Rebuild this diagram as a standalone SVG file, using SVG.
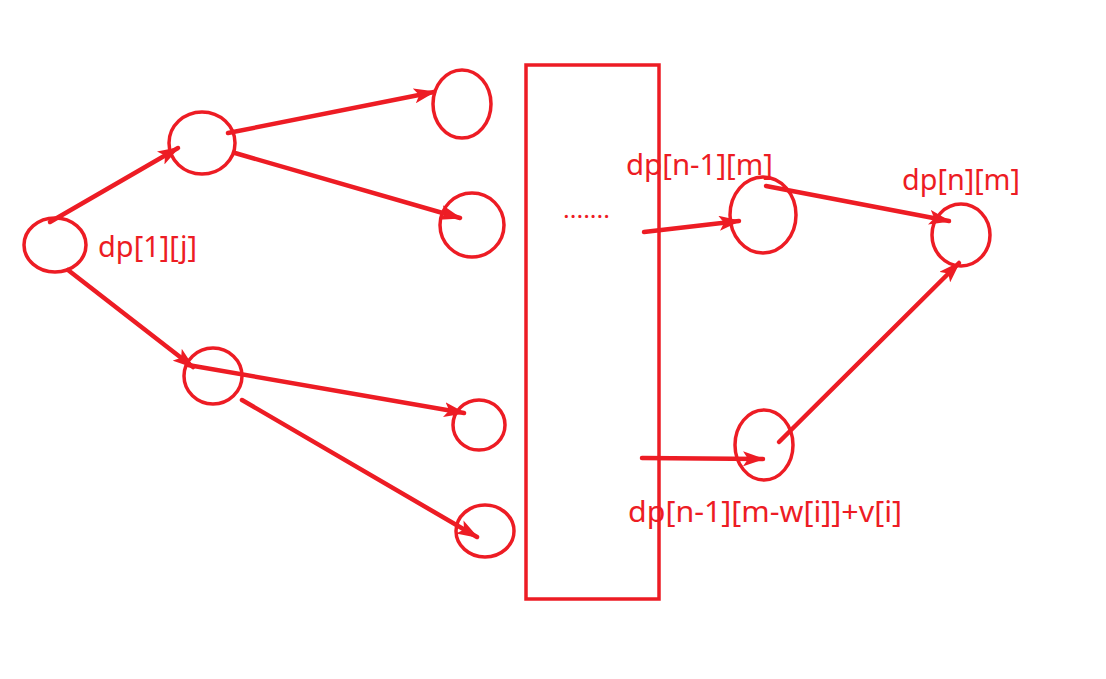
<svg xmlns="http://www.w3.org/2000/svg" width="1106" height="679" viewBox="0 0 1106 679">
<style>
.n{fill:none;stroke:#ED1C24;stroke-width:3.5}
.e{fill:none;stroke:#ED1C24;stroke-width:4.5;stroke-linecap:round}
.t{fill:#ED1C24;font-family:"Noto Sans","DejaVu Sans",sans-serif;font-size:29px}
</style>
<defs>
<marker id="ah" viewBox="0 0 22 15" refX="20" refY="7.5" markerWidth="22" markerHeight="15" markerUnits="userSpaceOnUse" orient="auto">
<path d="M0,0 L22,7.5 L0,15 L5,7.5 Z" fill="#ED1C24"/>
</marker>
</defs>
<rect width="1106" height="679" fill="#fff"/>
<g id="block"><rect class="n" x="526" y="65" width="133" height="534"/></g>
<g id="nA"><ellipse class="n" cx="55" cy="245" rx="31" ry="27"/></g>
<g id="nB"><ellipse class="n" cx="202" cy="143" rx="33" ry="31"/></g>
<g id="nC"><ellipse class="n" cx="462" cy="104" rx="29" ry="34"/></g>
<g id="nD"><ellipse class="n" cx="472" cy="225" rx="32" ry="32"/></g>
<g id="nE"><ellipse class="n" cx="213" cy="376" rx="29" ry="28"/></g>
<g id="nF"><ellipse class="n" cx="479" cy="425" rx="26" ry="25"/></g>
<g id="nG"><ellipse class="n" cx="485" cy="531" rx="29" ry="26"/></g>
<g id="nH"><ellipse class="n" cx="763" cy="215" rx="33" ry="38"/></g>
<g id="nI"><ellipse class="n" cx="961" cy="235" rx="29" ry="31"/></g>
<g id="nJ"><ellipse class="n" cx="764" cy="445" rx="29" ry="35"/></g>
<g id="edges">
<line class="e" x1="50" y1="222" x2="178" y2="148" marker-end="url(#ah)"/>
<line class="e" x1="228" y1="133" x2="434" y2="92" marker-end="url(#ah)"/>
<line class="e" x1="235" y1="153" x2="460" y2="218" marker-end="url(#ah)"/>
<line class="e" x1="68" y1="270" x2="193" y2="367" marker-end="url(#ah)"/>
<line class="e" x1="188" y1="365" x2="464" y2="413" marker-end="url(#ah)"/>
<line class="e" x1="242" y1="400" x2="477" y2="537" marker-end="url(#ah)"/>
<line class="e" x1="644" y1="232" x2="739" y2="221" marker-end="url(#ah)"/>
<line class="e" x1="766" y1="186" x2="949" y2="221" marker-end="url(#ah)"/>
<line class="e" x1="642" y1="458" x2="763" y2="459" marker-end="url(#ah)"/>
<line class="e" x1="779" y1="442" x2="959" y2="263" marker-end="url(#ah)"/>
</g>
<g id="labels">
<text class="t" x="98" y="257" textLength="99" lengthAdjust="spacingAndGlyphs">dp[1][j]</text>
<text class="t" x="563" y="218" style="font-size:24px" textLength="47" lengthAdjust="spacingAndGlyphs">.......</text>
<text class="t" x="626" y="175" textLength="147" lengthAdjust="spacingAndGlyphs">dp[n-1][m]</text>
<text class="t" x="902" y="190" textLength="118" lengthAdjust="spacingAndGlyphs">dp[n][m]</text>
<text class="t" x="628" y="522" textLength="274" lengthAdjust="spacingAndGlyphs">dp[n-1][m-w[i]]+v[i]</text>
</g>
</svg>
